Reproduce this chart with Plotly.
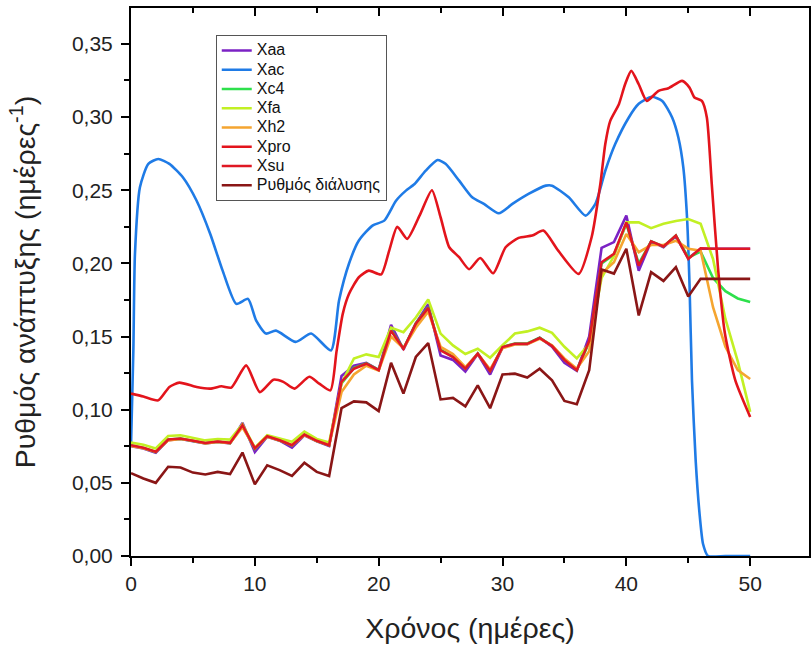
import plotly.graph_objects as go

# ---------------- data ----------------
days = list(range(0, 51))

xsu = [0.0757, 0.0740, 0.0712, 0.0796, 0.0803, 0.0790, 0.0772, 0.0782, 0.0773, 0.0894,
       0.0735, 0.0819, 0.0791, 0.0757, 0.0830, 0.0787, 0.0757, 0.1190, 0.1280, 0.1314,
       0.1270, 0.1540, 0.1416, 0.1587, 0.1696, 0.1405, 0.1360, 0.1280, 0.1383, 0.1264,
       0.1428, 0.1450, 0.1450, 0.1490, 0.1435, 0.1340, 0.1270, 0.1470, 0.2008, 0.2065,
       0.2280, 0.1985, 0.2150, 0.2115, 0.2190, 0.2030, 0.2103, 0.2100, 0.2100, 0.2100,
       0.2100]

xaa = [0.0750, 0.0735, 0.0705, 0.0792, 0.0800, 0.0787, 0.0770, 0.0780, 0.0770, 0.0910,
       0.0710, 0.0815, 0.0788, 0.0740, 0.0825, 0.0783, 0.0752, 0.1230, 0.1300, 0.1320,
       0.1272, 0.1580, 0.1410, 0.1590, 0.1720, 0.1370, 0.1340, 0.1260, 0.1380, 0.1240,
       0.1425, 0.1448, 0.1448, 0.1492, 0.1430, 0.1320, 0.1265, 0.1500, 0.2106, 0.2145,
       0.2326, 0.1950, 0.2150, 0.2110, 0.2185, 0.2035, 0.2100, 0.2100, 0.2100, 0.2100,
       0.2100]

xc4 = [0.0755, 0.0738, 0.0710, 0.0795, 0.0802, 0.0789, 0.0771, 0.0781, 0.0772, 0.0890,
       0.0733, 0.0818, 0.0790, 0.0755, 0.0829, 0.0786, 0.0756, 0.1180, 0.1285, 0.1316,
       0.1272, 0.1545, 0.1418, 0.1590, 0.1700, 0.1410, 0.1362, 0.1282, 0.1385, 0.1266,
       0.1430, 0.1452, 0.1452, 0.1492, 0.1437, 0.1342, 0.1272, 0.1460, 0.2000, 0.2060,
       0.2270, 0.1998, 0.2150, 0.2115, 0.2190, 0.2040, 0.2080, 0.1900, 0.1810, 0.1760,
       0.1735]

xfa = [0.0775, 0.0760, 0.0735, 0.0820, 0.0825, 0.0810, 0.0790, 0.0800, 0.0795, 0.0900,
       0.0740, 0.0825, 0.0805, 0.0780, 0.0850, 0.0800, 0.0775, 0.1180, 0.1350, 0.1378,
       0.1360, 0.1560, 0.1530, 0.1630, 0.1753, 0.1520, 0.1439, 0.1380, 0.1416, 0.1355,
       0.1440, 0.1520, 0.1535, 0.1560, 0.1525, 0.1430, 0.1350, 0.1450, 0.1900, 0.2050,
       0.2280, 0.2280, 0.2240, 0.2270, 0.2290, 0.2303, 0.2270, 0.2030, 0.1620, 0.1330,
       0.0985]

xh2 = [0.0752, 0.0736, 0.0712, 0.0790, 0.0800, 0.0788, 0.0770, 0.0780, 0.0772, 0.0880,
       0.0738, 0.0815, 0.0790, 0.0758, 0.0826, 0.0786, 0.0758, 0.1120, 0.1240, 0.1300,
       0.1268, 0.1500, 0.1420, 0.1560, 0.1670, 0.1430, 0.1380, 0.1290, 0.1380, 0.1275,
       0.1420, 0.1445, 0.1448, 0.1485, 0.1440, 0.1350, 0.1280, 0.1400, 0.1930, 0.2008,
       0.2200, 0.2076, 0.2125, 0.2125, 0.2155, 0.2100, 0.2087, 0.1700, 0.1430, 0.1270,
       0.1210]

dissolution = [0.0566, 0.0530, 0.0500, 0.0610, 0.0605, 0.0570, 0.0557, 0.0575, 0.0560, 0.0707,
               0.0490, 0.0620, 0.0587, 0.0548, 0.0637, 0.0575, 0.0546, 0.1010, 0.1057, 0.1050,
               0.0990, 0.1320, 0.1110, 0.1360, 0.1455, 0.1070, 0.1080, 0.1023, 0.1166, 0.1010,
               0.1240, 0.1246, 0.1220, 0.1280, 0.1200, 0.1060, 0.1037, 0.1270, 0.1958, 0.1930,
               0.2100, 0.1644, 0.1940, 0.1880, 0.1974, 0.1774, 0.1894, 0.1894, 0.1894, 0.1894,
               0.1894]

xpro_t = [0, 1, 2.2, 3.1, 3.9, 5.3, 6.4, 7.3, 8.1, 9.3, 10.4, 11.5, 12.3, 13.2, 14.4, 15.2,
          16.1, 16.6, 17.1, 17.6, 18.4, 19.2, 20.2, 20.85, 21.5, 22.3, 23.3, 24.3, 25.0,
          25.7, 26.5, 27.3, 28.2, 29.25, 30.25, 31.3, 32.4, 33.3, 34.5, 36.15, 37.2, 37.9,
          38.3, 38.7, 39.4, 39.9, 40.4, 41.0, 41.65, 42.6, 43.4, 44.5, 45.1, 45.5, 46.1,
          46.5, 46.9, 47.4, 47.96, 48.8, 50]
xpro = [0.1110, 0.1090, 0.1064, 0.1155, 0.1185, 0.1155, 0.1144, 0.1160, 0.1151, 0.1303,
        0.1120, 0.1205, 0.1190, 0.1144, 0.1225, 0.1178, 0.1132, 0.1400, 0.1655, 0.1790,
        0.1905, 0.1950, 0.1924, 0.2087, 0.2250, 0.2167, 0.2326, 0.2500, 0.2315, 0.2110,
        0.2042, 0.1960, 0.2037, 0.1932, 0.2110, 0.2174, 0.2190, 0.2224, 0.2087, 0.1928,
        0.2180, 0.2542, 0.2816, 0.2974, 0.3088, 0.3224, 0.3315, 0.3224, 0.3110, 0.3179,
        0.3197, 0.3247, 0.3201, 0.3133, 0.3110, 0.2997, 0.2540, 0.1970, 0.1520, 0.1200,
        0.0950]

xac_t = [0, 0.19, 0.32, 0.72, 1.4, 2.2, 3.1, 4.2, 5.3, 6.4, 7.4, 8.5, 9.45, 10.1, 10.9,
         11.7, 13.3, 14.55, 16.15, 16.8, 17.6, 18.4, 19.5, 20.45, 21.4, 22.2, 22.9, 23.8,
         24.75, 25.4, 26.5, 27.55, 28.5, 29.7, 30.8, 32.1, 33.5, 34.0, 35.35, 36.7, 37.5,
         38.3, 39.1, 40.2, 41.0, 42.05, 42.9, 43.7, 44.2, 44.6, 44.9, 45.1, 45.3, 45.6,
         45.9, 46.2, 46.6, 48.0, 50]
xac = [0.0750, 0.1405, 0.2065, 0.2520, 0.2680, 0.2713, 0.2680, 0.2587, 0.2428, 0.2201,
       0.1950, 0.1723, 0.1757, 0.1610, 0.1520, 0.1540, 0.1463, 0.1520, 0.1405, 0.1746,
       0.1997, 0.2156, 0.2258, 0.2292, 0.2428, 0.2497, 0.2542, 0.2633, 0.2706, 0.2680,
       0.2565, 0.2451, 0.2406, 0.2342, 0.2406, 0.2474, 0.2531, 0.2531, 0.2451, 0.2326,
       0.2406, 0.2633, 0.2815, 0.2997, 0.3090, 0.3138, 0.3110, 0.2997, 0.2860, 0.2656,
       0.2315, 0.1860, 0.1200, 0.0650, 0.0300, 0.0080, 0.0000, 0.0000, 0.0000]

names = ["Xaa", "Xac", "Xc4", "Xfa", "Xh2", "Xpro", "Xsu", "Ρυθμός διάλυσης"]
colors = ["#7B22C4", "#1F7BE6", "#2EE04C", "#C2F024", "#F5A530", "#E3141C", "#E01824", "#8A1616"]

x_ticks = [0, 10, 20, 30, 40, 50]
y_ticks = [0.00, 0.05, 0.10, 0.15, 0.20, 0.25, 0.30, 0.35]

# ---------------- figure ----------------
series = [
    (days, xaa, "linear"),
    (xac_t, xac, "spline"),
    (days, xc4, "linear"),
    (days, xfa, "linear"),
    (days, xh2, "linear"),
    (xpro_t, xpro, "spline"),
    (days, xsu, "linear"),
    (days, dissolution, "linear"),
]

fig = go.Figure()
n = len(series)
for i, ((xs, ys, shape), name, col) in enumerate(zip(series, names, colors)):
    line = dict(color=col, width=2.6, shape=shape)
    if shape == "spline":
        line["smoothing"] = 0.6
    fig.add_trace(go.Scatter(
        x=xs, y=ys, mode="lines",
        name='<span style="font-size:16px">' + name + '</span>',
        line=line,
        xaxis="x2" if i == n - 1 else "x",
    ))

font_family = "Arial, Liberation Sans, sans-serif"
xr = [0, 54.75]
yr = [0, 0.3745]
txt = "#222222"

fig.update_layout(
    width=811, height=648,
    margin=dict(l=131, r=0, t=8, b=92),
    plot_bgcolor="white", paper_bgcolor="white",
    separators=", ",
    font=dict(family=font_family, color=txt),
    showlegend=True,
    legend=dict(
        x=0.125, y=0.951, xanchor="left", yanchor="top",
        bgcolor="white", bordercolor="#555555", borderwidth=1,
        font=dict(size=12.5, color="#111111", family=font_family),
        tracegroupgap=0,
    ),
    xaxis=dict(
        range=xr, tickvals=x_ticks, ticks="outside", ticklen=8, tickwidth=2,
        tickcolor="black", showline=True, linewidth=2, linecolor="black", mirror=True,
        showgrid=False, zeroline=False,
        minor=dict(dtick=5, tick0=0, ticks="outside", ticklen=5, tickwidth=2, tickcolor="black"),
        tickfont=dict(size=21, color=txt),
        title=dict(text="Χρόνος (ημέρες)", font=dict(size=28.5, color=txt), standoff=24),
    ),
    xaxis2=dict(
        range=xr, matches="x", overlaying="x", side="top", anchor="y", tickvals=x_ticks,
        ticks="inside", ticklen=8, tickwidth=2, tickcolor="black",
        showline=True, linewidth=2, linecolor="black", showticklabels=False,
        showgrid=False, zeroline=False,
        minor=dict(dtick=5, tick0=0, ticks="inside", ticklen=5, tickwidth=2, tickcolor="black"),
    ),
    yaxis=dict(
        range=yr, tickvals=y_ticks, tickformat=".2f", ticks="outside", ticklen=8, tickwidth=2,
        tickcolor="black", showline=True, linewidth=2, linecolor="black", mirror=True,
        showgrid=False, zeroline=False,
        minor=dict(dtick=0.025, tick0=0, ticks="outside", ticklen=5, tickwidth=2, tickcolor="black"),
        tickfont=dict(size=21, color=txt),
        ticklabelstandoff=4,
        title=dict(text="Ρυθμός ανάπτυξης (ημέρες<sup>-1</sup>)", font=dict(size=28.5, color=txt), standoff=28),
    ),
    yaxis2=dict(
        range=yr, overlaying="y", side="right", anchor="x", tickvals=y_ticks,
        ticks="inside", ticklen=8, tickwidth=2, tickcolor="black",
        showline=True, linewidth=2, linecolor="black", showticklabels=False,
        showgrid=False, zeroline=False,
        minor=dict(dtick=0.025, tick0=0, ticks="inside", ticklen=5, tickwidth=2, tickcolor="black"),
    ),
)

fig.write_html("out.html")
